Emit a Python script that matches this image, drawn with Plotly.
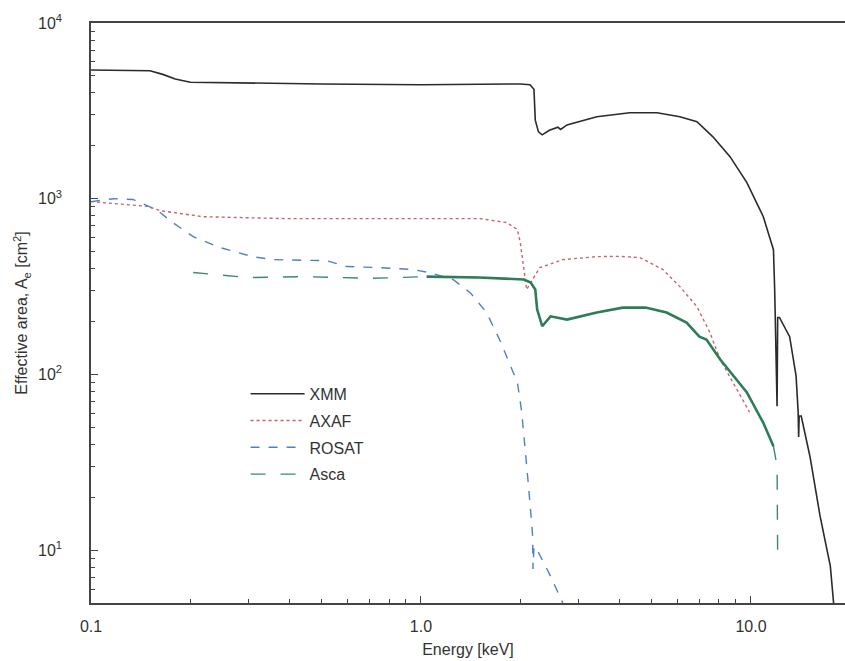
import plotly.graph_objects as go

# ---------------- data ----------------
xmm_E = [0.10, 0.151, 0.165, 0.18, 0.20, 0.30, 0.50, 1.0, 1.6, 2.0, 2.14, 2.20, 2.22, 2.27, 2.33,
         2.45, 2.6, 2.65, 2.77, 3.41, 4.29, 5.19, 6.09, 6.86, 7.67, 8.64, 9.72, 10.9,
         11.7, 11.8, 12.0, 12.05, 12.2, 13.1, 13.7, 13.9, 13.95, 14.0, 14.2, 15.1, 16.2,
         17.4, 17.8]
xmm_A = [5400, 5350, 5100, 4800, 4600, 4550, 4500, 4450, 4500, 4500, 4450, 4200, 2800, 2400, 2310,
         2450, 2550, 2480, 2630, 2925, 3085, 3085, 2925, 2740, 2250, 1735, 1235, 790,
         513, 304, 66, 211, 211, 164, 98, 61, 44, 58, 58, 34, 15.6,
         8.1, 5.0]

axaf_E = [0.10, 0.148, 0.162, 0.218, 0.393, 0.70, 1.0, 1.51, 1.82, 1.96, 2.0, 2.05, 2.09,
          2.18, 2.29, 2.69, 3.41, 4.01, 4.61, 5.41, 6.09, 6.86, 7.51, 8.06, 8.82, 9.90]
axaf_A = [962, 905, 855, 790, 770, 770, 770, 770, 731, 667, 562, 400, 304,
          347, 405, 450, 468, 470, 462, 395, 316, 243, 173, 122, 90, 61]

rosat_E = [0.10, 0.117, 0.134, 0.158, 0.177, 0.204, 0.246, 0.309, 0.356, 0.518, 0.596,
           0.751, 0.944, 1.06, 1.25, 1.41, 1.58, 1.73, 1.86, 1.96, 2.02, 2.06, 2.11,
           2.16, 2.18, 2.185, 2.20, 2.27, 2.47, 2.69]
rosat_A = [962, 1000, 990, 865, 731, 608, 527, 468, 450, 444, 411,
           405, 395, 380, 347, 292, 225, 158, 114, 90, 61, 39, 25,
           15, 12, 7.8, 10.5, 9.7, 7.1, 5.0]

asca_E = [0.204, 0.30, 0.45, 0.70, 1.04, 1.50, 2.05, 2.11, 2.15, 2.22, 2.25, 2.33,
          2.47, 2.77, 3.41, 4.09, 4.79, 5.55, 6.38, 6.98, 7.33, 8.06, 9.72, 10.9,
          11.7, 12.0, 12.02, 12.05]
asca_A = [380, 356, 360, 352, 360, 356, 347, 340, 333, 304, 234, 188,
          214, 205, 225, 240, 240, 225, 197, 164, 158, 122, 79, 53,
          39, 30, 15.6, 8.9]

series_names = ["XMM", "AXAF", "ROSAT", "Asca"]
x_tickvals = [0.1, 1.0, 10.0]
x_ticktext = ["0.1", "1.0", "10.0"]
y_tickvals = [10, 100, 1000, 10000]
y_ticktext = ["10<sup>1</sup>", "10<sup>2</sup>", "10<sup>3</sup>", "10<sup>4</sup>"]

# ---------------- figure ----------------
fig = go.Figure()
fig.add_trace(go.Scatter(x=xmm_E, y=xmm_A, name=series_names[0], mode="lines", legendgroup="g1",
                         line=dict(color="#2b2b2b", width=1.6, dash="solid")))
fig.add_trace(go.Scatter(x=axaf_E, y=axaf_A, name=series_names[1], mode="lines", legendgroup="g2",
                         line=dict(color="#c9606a", width=1.4, dash="dot")))
fig.add_trace(go.Scatter(x=rosat_E, y=rosat_A, name=series_names[2], mode="lines", legendgroup="g3",
                         line=dict(color="#4f7fc8", width=1.4, dash="dash")))
fig.add_trace(go.Scatter(x=asca_E, y=asca_A, name=series_names[3], mode="lines", legendgroup="g4",
                         line=dict(color="#3a8a66", width=1.4, dash="longdash")))
# dense (noisy-looking) high-energy part of the Asca curve appears solid
fig.add_trace(go.Scatter(x=asca_E[4:25], y=asca_A[4:25], showlegend=False, mode="lines",
                         legendgroup="g4",
                         line=dict(color="#2f7d58", width=2.6), hoverinfo="skip"))

font_main = dict(family="Liberation Sans, Arial, sans-serif", size=16, color="#333333")

fig.update_layout(
    width=845, height=661,
    margin=dict(l=91, r=0, t=23, b=58),
    paper_bgcolor="white", plot_bgcolor="white",
    font=font_main,
    showlegend=True,
    legend=dict(x=0.205, y=0.39, xanchor="left", yanchor="top",
                bgcolor="rgba(0,0,0,0)", font=dict(size=16, color="#333333"),
                traceorder="grouped", tracegroupgap=3, itemwidth=54),
)
fig.update_xaxes(
    type="log", range=[-1, 1.285],
    tickvals=x_tickvals, ticktext=x_ticktext,
    ticks="inside", ticklen=7, tickcolor="#444",
    minor=dict(ticks="inside", ticklen=4, dtick="D1", tickcolor="#444", showgrid=False),
    showline=True, linecolor="#444", linewidth=1.5, mirror=True,
    showgrid=False, zeroline=False,
    ticklabelstandoff=8,
    title=dict(text="Energy [keV]", font=dict(size=16, color="#333333"), standoff=10),
)
fig.update_yaxes(
    type="log", range=[0.699, 4],
    tickvals=y_tickvals, ticktext=y_ticktext,
    ticks="inside", ticklen=7, tickcolor="#444",
    minor=dict(ticks="inside", ticklen=4, dtick="D1", tickcolor="#444", showgrid=False),
    showline=True, linecolor="#444", linewidth=1.5,
    showgrid=False, zeroline=False,
    ticklabelstandoff=24,
    title=dict(text="Effective area, A<sub>e</sub> [cm<sup>2</sup>]",
               font=dict(size=16, color="#333333"), standoff=6),
)

fig.write_html("out.html")
